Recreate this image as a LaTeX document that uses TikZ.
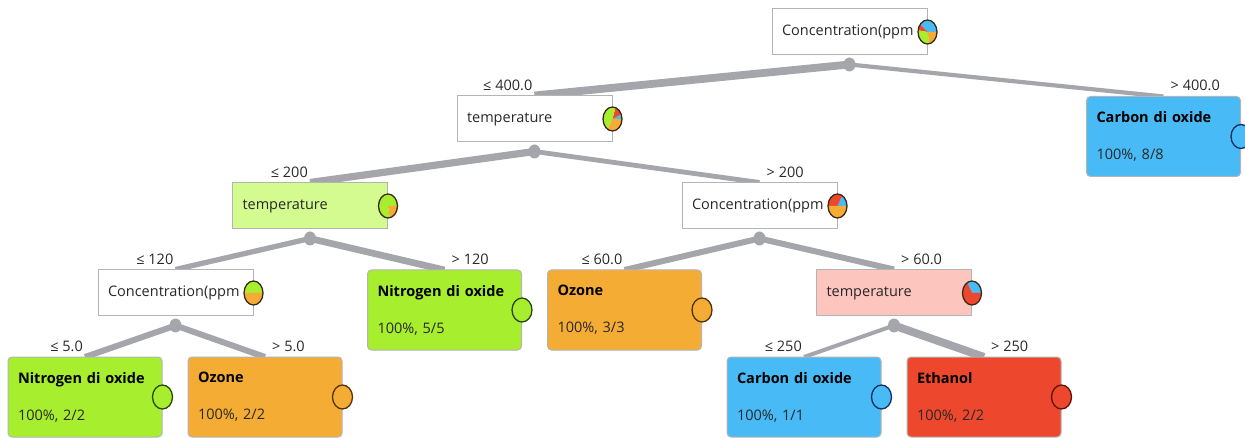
\documentclass[tikz,border=0pt]{standalone}
\usepackage{fontspec}
\setmainfont{Open Sans}
\usetikzlibrary{calc,shapes.geometric}
\definecolor{cblue}{RGB}{72,186,246}
\definecolor{cgreen}{RGB}{166,238,46}
\definecolor{corange}{RGB}{245,172,52}
\definecolor{cred}{RGB}{237,72,45}
\definecolor{lgreen}{RGB}{212,251,144}
\definecolor{lpink}{RGB}{252,197,190}
\definecolor{edgegray}{RGB}{165,165,172}
\definecolor{bordergray}{RGB}{180,180,180}
\definecolor{txtgray}{RGB}{40,40,40}
\definecolor{dblue}{RGB}{20,45,95}
\definecolor{dgreen}{RGB}{40,70,10}
\definecolor{dorange}{RGB}{80,50,10}
\definecolor{dred}{RGB}{90,20,10}
\definecolor{dpie}{RGB}{60,40,25}
\newcommand{\myslice}[4]{%
  \fill[#4] (#1) -- ++({9.5*cos(-#2)},{12*sin(-#2)})
    arc[start angle=-#2, end angle=-#3, x radius=9.5, y radius=12] -- cycle;}
\newcommand{\myring}[1]{\draw[dpie, line width=1.3pt] (#1) ellipse [x radius=9.5, y radius=12];}
\begin{document}
\begin{tikzpicture}[x=1pt,y=-1pt,
  every node/.style={font=\fontsize{14.5}{17}\selectfont, text=txtgray},
  inner/.style={draw=bordergray, line width=1pt, minimum width=155, minimum height=46,
    text width=135, inner xsep=10, align=left, anchor=center},
  leaf/.style={draw=bordergray, line width=1pt, rounded corners=4, minimum width=154,
    minimum height=80, text width=134, inner xsep=10, align=left, anchor=center,
    font=\fontsize{14.5}{37}\selectfont},
  junc/.style={ellipse, fill=edgegray, draw=none, minimum width=12, minimum height=14, inner sep=0},
  edge/.style={draw=edgegray},
  lab/.style={inner sep=0, text=txtgray},
  lcirc/.style={line width=1.3pt}
]
\useasboundingbox (0,0) rectangle (1245,438);
% nodes
\node[inner, fill=white] (n1) at (849.5,32) {Concentration(ppm};
\node[inner, fill=white] (n2) at (534.5,119) {temperature};
\node[inner, fill=lgreen] (n4) at (310,206) {temperature};
\node[inner, fill=white] (n5) at (759.5,206) {Concentration(ppm};
\node[inner, fill=white] (n6) at (175.5,293) {Concentration(ppm};
\node[inner, fill=lpink] (n9) at (894,293) {temperature};
% junction dots
\path (n1.south) ++(0,9) coordinate (c1);
\path (n2.south) ++(0,9) coordinate (c2);
\path (n4.south) ++(0,9) coordinate (c4);
\path (n5.south) ++(0,9) coordinate (c5);
\path (n6.south) ++(0,9) coordinate (c6);
\path (n9.south) ++(0,9) coordinate (c9);
% leaves positions
\coordinate (p3) at (1163.5,136.5);
\coordinate (p7) at (444.5,310);
\coordinate (p8) at (624.5,310);
\coordinate (p10) at (85,397);
\coordinate (p11) at (265,397);
\coordinate (p12) at (804,397);
\coordinate (p13) at (984,397);
% edges
\draw[edge, line width=7.8] (c1) -- (n2.north);
\draw[edge, line width=4.2] (c1) -- ($(p3)+(0,-40)$);
\draw[edge, line width=7.2] (c2) -- (n4.north);
\draw[edge, line width=4.8] (c2) -- (n5.north);
\draw[edge, line width=5.3] (c4) -- (n6.north);
\draw[edge, line width=6.7] (c4) -- ($(p7)+(0,-40)$);
\draw[edge, line width=6] (c5) -- ($(p8)+(0,-40)$);
\draw[edge, line width=6] (c5) -- (n9.north);
\draw[edge, line width=6] (c6) -- ($(p10)+(0,-40)$);
\draw[edge, line width=6] (c6) -- ($(p11)+(0,-40)$);
\draw[edge, line width=4] (c9) -- ($(p12)+(0,-40)$);
\draw[edge, line width=8] (c9) -- ($(p13)+(0,-40)$);
% redraw internal nodes over edges
\node[inner, fill=white] at (n2) {temperature};
\node[inner, fill=lgreen] at (n4) {temperature};
\node[inner, fill=white] at (n5) {Concentration(ppm};
\node[inner, fill=white] at (n6) {Concentration(ppm};
\node[inner, fill=lpink] at (n9) {temperature};
% leaves
\node[leaf, fill=cblue] (n3) at (p3) {\textbf{\color{black}Carbon di oxide}\\100\%, 8/8};
\node[leaf, fill=cgreen] (n7) at (p7) {\textbf{\color{black}Nitrogen di oxide}\\100\%, 5/5};
\node[leaf, fill=corange] (n8) at (p8) {\textbf{\color{black}Ozone}\\100\%, 3/3};
\node[leaf, fill=cgreen] (n10) at (p10) {\textbf{\color{black}Nitrogen di oxide}\\100\%, 2/2};
\node[leaf, fill=corange] (n11) at (p11) {\textbf{\color{black}Ozone}\\100\%, 2/2};
\node[leaf, fill=cblue] (n12) at (p12) {\textbf{\color{black}Carbon di oxide}\\100\%, 1/1};
\node[leaf, fill=cred] (n13) at (p13) {\textbf{\color{black}Ethanol}\\100\%, 2/2};
% junction dots
\node[junc] (d1) at (c1) {};
\node[junc] (d2) at (c2) {};
\node[junc] (d4) at (c4) {};
\node[junc] (d5) at (c5) {};
\node[junc] (d6) at (c6) {};
\node[junc] (d9) at (c9) {};
% edge labels
\node[lab, anchor=base east] (l2) at ($(n2.north)+(-2,-5)$) {≤ 400.0};
\node[lab, anchor=base west] (l3) at ($(n3.north)+(7,-5)$) {> 400.0};
\node[lab, anchor=base east] (l4) at ($(n4.north)+(-2,-5)$) {≤ 200};
\node[lab, anchor=base west] (l5) at ($(n5.north)+(7,-5)$) {> 200};
\node[lab, anchor=base east] (l6) at ($(n6.north)+(-2,-5)$) {≤ 120};
\node[lab, anchor=base west] (l7) at ($(n7.north)+(7,-5)$) {> 120};
\node[lab, anchor=base east] (l8) at ($(n8.north)+(-2,-5)$) {≤ 60.0};
\node[lab, anchor=base west] (l9) at ($(n9.north)+(7,-5)$) {> 60.0};
\node[lab, anchor=base east] (l10) at ($(n10.north)+(-2,-5)$) {≤ 5.0};
\node[lab, anchor=base west] (l11) at ($(n11.north)+(7,-5)$) {> 5.0};
\node[lab, anchor=base east] (l12) at ($(n12.north)+(-2,-5)$) {≤ 250};
\node[lab, anchor=base west] (l13) at ($(n13.north)+(7,-5)$) {> 250};
% pies
% root: blue 9, red 2, green 7, orange 5 of 23
\myslice{n1.east}{0}{140.9}{cblue}
\myslice{n1.east}{140.9}{172.2}{cred}
\myslice{n1.east}{172.2}{281.7}{cgreen}
\myslice{n1.east}{281.7}{360}{corange}
\myring{n1.east}
% n2: blue 1, red 2, green 7, orange 5 of 15
\myslice{n2.east}{0}{24}{cblue}
\myslice{n2.east}{24}{72}{cred}
\myslice{n2.east}{72}{240}{cgreen}
\myslice{n2.east}{240}{360}{corange}
\myring{n2.east}
% n4: green 7, orange 2
\myslice{n4.east}{0}{280}{cgreen}
\myslice{n4.east}{280}{360}{corange}
\myring{n4.east}
% n5: blue 1, red 2, orange 3
\myslice{n5.east}{0}{60}{cblue}
\myslice{n5.east}{60}{180}{cred}
\myslice{n5.east}{180}{360}{corange}
\myring{n5.east}
% n6: green 2, orange 2
\myslice{n6.east}{0}{180}{cgreen}
\myslice{n6.east}{180}{360}{corange}
\myring{n6.east}
% n9: blue 1, red 2
\myslice{n9.east}{0}{120}{cblue}
\myslice{n9.east}{120}{360}{cred}
\myring{n9.east}
% leaf circles
\draw[lcirc, fill=cblue, draw=dblue] (n3.east) ellipse [x radius=10, y radius=12];
\draw[lcirc, fill=cgreen, draw=dgreen] (n7.east) ellipse [x radius=10, y radius=12];
\draw[lcirc, fill=corange, draw=dorange] (n8.east) ellipse [x radius=10, y radius=12];
\draw[lcirc, fill=cgreen, draw=dgreen] (n10.east) ellipse [x radius=10, y radius=12];
\draw[lcirc, fill=corange, draw=dorange] (n11.east) ellipse [x radius=10, y radius=12];
\draw[lcirc, fill=cblue, draw=dblue] (n12.east) ellipse [x radius=10, y radius=12];
\draw[lcirc, fill=cred, draw=dred] (n13.east) ellipse [x radius=10, y radius=12];
\end{tikzpicture}
\end{document}
